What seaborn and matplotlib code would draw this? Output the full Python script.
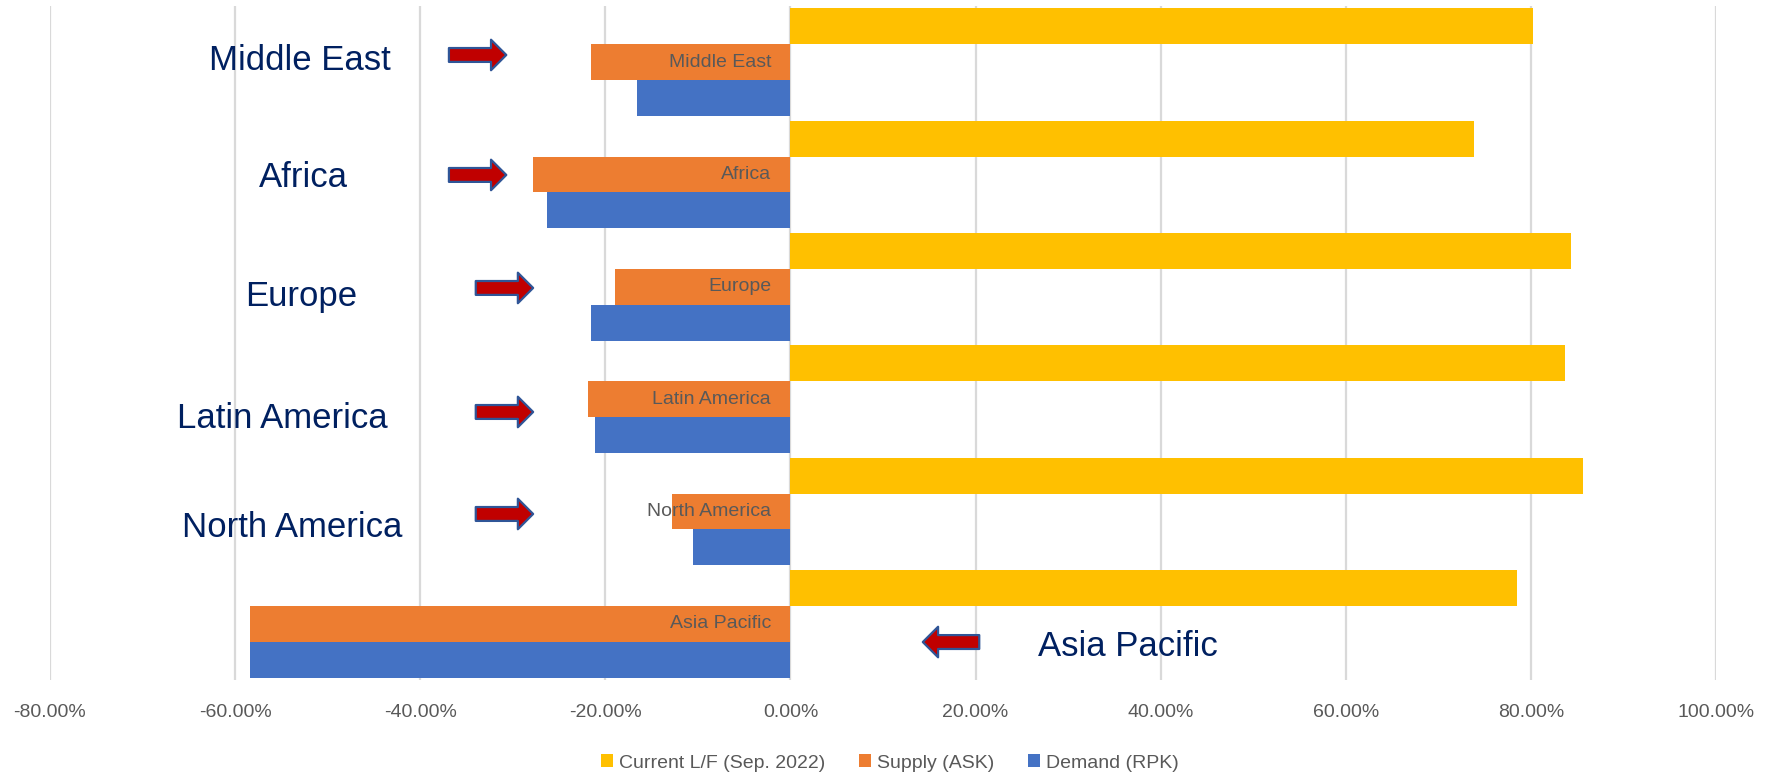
import matplotlib
matplotlib.use("Agg")
import matplotlib.pyplot as plt
from matplotlib import font_manager
from matplotlib.ticker import FuncFormatter
import seaborn as sns
import pandas as pd

# Regions, top to bottom
regions = ["Middle East", "Africa", "Europe", "Latin America", "North America", "Asia Pacific"]

# Series values (fractions)
load_factor = [0.802, 0.738, 0.843, 0.837, 0.856, 0.785]
supply_ask = [-0.216, -0.278, -0.190, -0.219, -0.128, -0.584]
demand_rpk = [-0.166, -0.263, -0.215, -0.211, -0.105, -0.584]

series_names = ["Current L/F (Sep. 2022)", "Supply (ASK)", "Demand (RPK)"]
series_colors = ["#FFC000", "#ED7D31", "#4472C4"]
x_ticks = [-0.8, -0.6, -0.4, -0.2, 0.0, 0.2, 0.4, 0.6, 0.8, 1.0]

# Callout text and arrow placement (data coordinates)
callout_x = [-0.530, -0.526, -0.529, -0.549, -0.538, 0.365]
callout_y = [0.070, 1.111, 2.171, 3.257, 4.227, 5.287]
arrow_tail_x = [-0.369, -0.369, -0.340, -0.340, -0.340, 0.204]
arrow_tip_x = [-0.307, -0.307, -0.278, -0.278, -0.278, 0.143]
arrow_y = [-0.064, 1.004, 2.010, 3.114, 4.022, 5.162]

df = pd.DataFrame({
    "region": regions * 3,
    "series": [series_names[0]] * 6 + [series_names[1]] * 6 + [series_names[2]] * 6,
    "value": load_factor + supply_ask + demand_rpk,
})

sns.set_theme(style="white")
plt.rcParams["font.family"] = ["Liberation Sans", "DejaVu Sans"]
plt.rcParams["axes.unicode_minus"] = False

# Condensed face for the large callouts when available
try:
    font_manager.findfont("Liberation Sans Narrow", fallback_to_default=False)
    callout_family, callout_size = ["Liberation Sans Narrow", "Liberation Sans"], 30
except Exception:
    callout_family, callout_size = ["Liberation Sans", "DejaVu Sans"], 25

fig = plt.figure(figsize=(17.67, 7.74), dpi=100)
ax = fig.add_axes([50 / 1767, 1 - 680 / 774, (1716 - 50) / 1767, (680 - 6) / 774])

sns.barplot(
    data=df, x="value", y="region", hue="series",
    order=regions, hue_order=series_names, palette=series_colors,
    orient="h", width=0.96, gap=0, saturation=1, linewidth=0,
    ax=ax,
)

handles, labels = ax.get_legend_handles_labels()
if ax.get_legend() is not None:
    ax.get_legend().remove()

ax.set_xlim(-0.8, 1.0)
ax.set_xticks(x_ticks)
ax.xaxis.set_major_formatter(FuncFormatter(lambda v, _: f"{v * 100:.2f}%"))
ax.set_yticks([])
ax.set_xlabel("")
ax.set_ylabel("")
ax.grid(axis="x", color="#D9D9D9", linewidth=1.6)
ax.grid(axis="y", visible=False)
ax.set_axisbelow(True)
for s in ax.spines.values():
    s.set_visible(False)
ax.tick_params(axis="x", length=0, pad=17, labelsize=14, labelcolor="#595959")

# Region names inside the supply bars, right-aligned near zero
for i, name in enumerate(regions):
    ax.annotate(name, xy=(0, i), xytext=(-14, 0), textcoords="offset points",
                ha="right", va="center", fontsize=14, color="#595959")

# Large callouts with block arrows
for i, name in enumerate(regions):
    ax.text(callout_x[i], callout_y[i], name, ha="center", va="baseline",
            fontsize=callout_size, color="#002060", family=callout_family)
    ax.annotate(
        "", xy=(arrow_tip_x[i], arrow_y[i]), xytext=(arrow_tail_x[i], arrow_y[i]),
        arrowprops=dict(
            arrowstyle="simple,head_length=11,head_width=22,tail_width=10",
            mutation_scale=1, fc="#C00000", ec="#2F5597", lw=1.6,
            shrinkA=0, shrinkB=0,
        ),
    )

fig.legend(
    handles, labels, loc="center", bbox_to_anchor=(890 / 1767, 1 - 763 / 774),
    ncol=3, frameon=False, fontsize=14, labelcolor="#595959",
    handlelength=0.62, handleheight=0.62, handletextpad=0.3, columnspacing=1.75,
)

fig.savefig("out.png", dpi=100, facecolor="white")
